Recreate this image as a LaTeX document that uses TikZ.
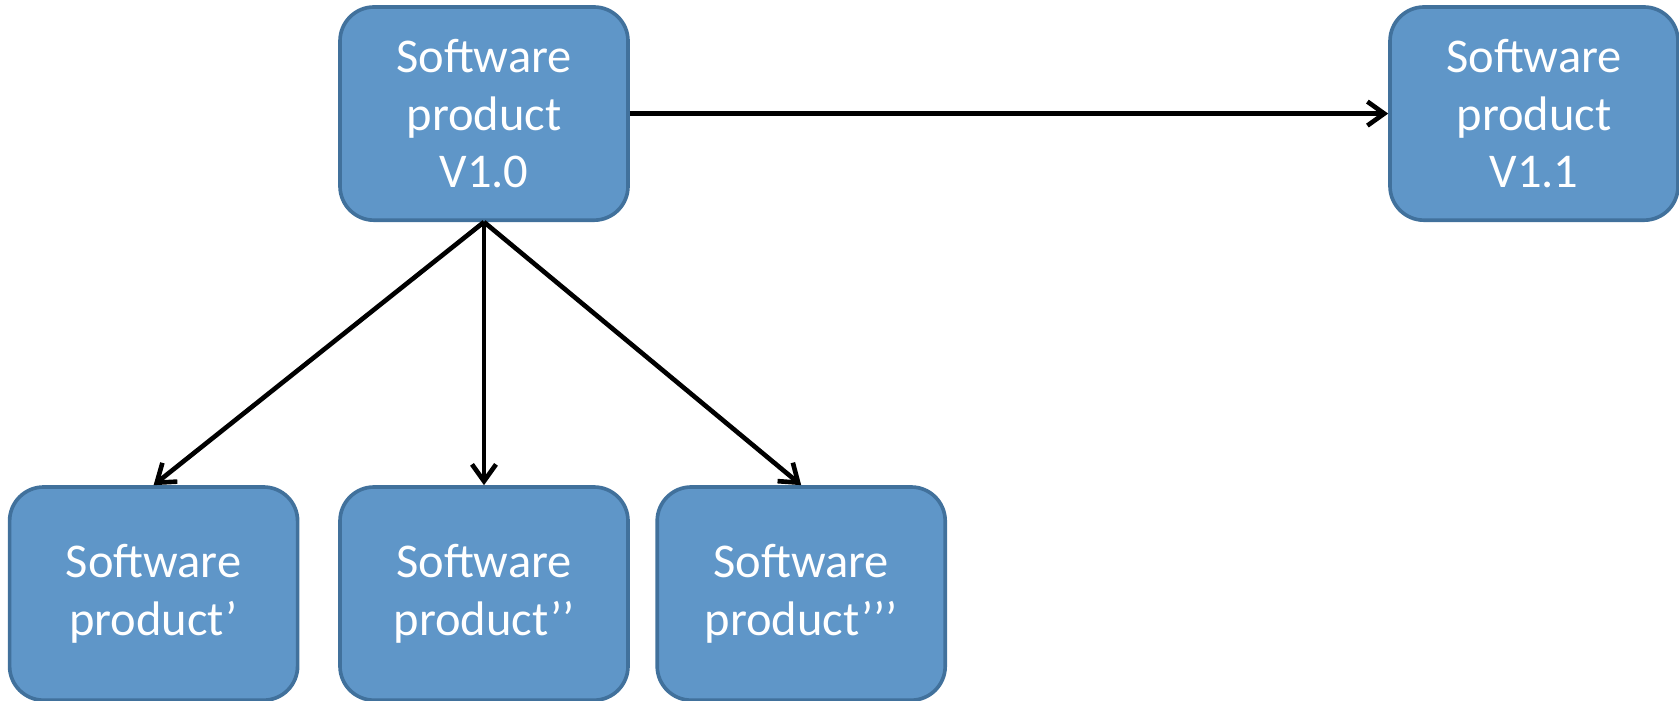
\documentclass[tikz,border=0pt]{standalone}
\usepackage{fontspec}
\setmainfont{Carlito}
\usetikzlibrary{positioning,arrows.meta}
\definecolor{boxfill}{HTML}{5F96C8}
\definecolor{boxline}{HTML}{41719C}

\begin{document}
\begin{tikzpicture}[-{Straight Barb[length=0.42cm,width=0.6cm]}, line width=3.3pt,
		node distance =12cm and 8cm ,on grid ,
		version/.style ={ rectangle ,rounded corners=0.85cm ,fill=boxfill ,
			draw=boxline ,line width=2.6pt ,text=white ,align=center ,
			minimum width=7.2cm ,minimum height=5.33cm ,
			font=\fontsize{34.5}{41}\selectfont}]
		\useasboundingbox (0,0) rectangle (41.975,-17.525);
		\node[version] (V10) at (12.1,-2.84) {Software\\product\\V1.0};
		\node[version] (V11) [right = 26.25cm of V10] {Software\\product\\V1.1};
		\node[version] (P2) [below = of V10] {Software\\product’’};
		\node[version] (P1) [left = 8.26cm of P2] {Software\\product’};
		\node[version] (P3) [right = 7.93cm of P2] {Software\\product’’’};
		\draw (V10.east) -- (V11.west);
		\draw (V10.south) -- (P1.north);
		\draw (V10.south) -- (P2.north);
		\draw (V10.south) -- (P3.north);
\end{tikzpicture}
\end{document}
